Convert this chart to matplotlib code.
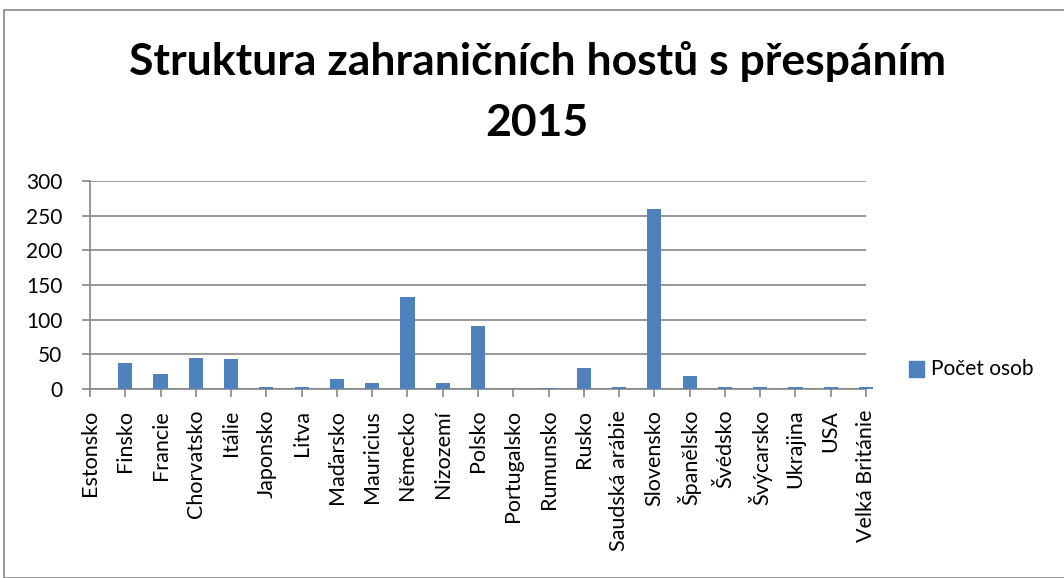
import matplotlib
matplotlib.use("Agg")
import matplotlib.pyplot as plt
from matplotlib.patches import Rectangle
import numpy as np

countries = ['Estonsko', 'Finsko', 'Francie', 'Chorvatsko', 'Itálie', 'Japonsko',
             'Litva', 'Maďarsko', 'Mauricius', 'Německo', 'Nizozemí', 'Polsko',
             'Portugalsko', 'Rumunsko', 'Rusko', 'Saudská arábie', 'Slovensko',
             'Španělsko', 'Švédsko', 'Švýcarsko', 'Ukrajina', 'USA', 'Velká Británie']
guests = [0, 38, 21, 45, 43, 3, 3, 15, 8, 132, 8, 91, 0, 2, 31, 3, 259, 19, 3, 3, 3, 3, 3]
yticks = [0, 50, 100, 150, 200, 250, 300]

plt.rcParams['font.family'] = ['Lato', 'DejaVu Sans']

W, H = 1064, 578
fig = plt.figure(figsize=(W / 100, H / 100), dpi=100)

# outer chart border
fig.patches.append(Rectangle((4 / W, 0), 1.2, 1 - 10 / H, transform=fig.transFigure,
                             fill=False, edgecolor='#868686', lw=1.2))

n = len(countries)
left, right, top, bottom = 90, 866, 181, 389
ax = fig.add_axes([left / W, 1 - bottom / H, (right - left) / W, (bottom - top) / H])

x = np.arange(n)
ax.bar(x, guests, width=0.4, color='#4F81BD', zorder=3, clip_on=False)
ax.set_xlim(0, n - 1)
ax.set_ylim(0, 300)
ax.set_yticks(yticks)
ax.set_yticklabels([str(v) for v in yticks], fontsize=15)
ax.yaxis.grid(True, color='#868686', lw=1.2, zorder=0)

ax.set_xticks(x)
ax.set_xticklabels(countries, rotation=90, fontsize=15.5, va='top')
ax.tick_params(axis='x', length=6, color='#868686', width=1.2, pad=9)
ax.tick_params(axis='y', length=6, color='#868686', width=1.2, pad=14)

for s in ['top', 'right']:
    ax.spines[s].set_visible(False)
for s in ['left', 'bottom']:
    ax.spines[s].set_color('#868686')
    ax.spines[s].set_linewidth(1.2)

fig.text(0.505, 1 - 62 / H, 'Struktura zahraničních hostů s přespáním',
         ha='center', va='center', fontsize=32, fontweight='bold')
fig.text(0.505, 1 - 123 / H, '2015', ha='center', va='center', fontsize=32, fontweight='bold')

# legend
fig.patches.append(Rectangle((909 / W, 1 - 377 / H), 15 / W, 16 / H,
                             transform=fig.transFigure, color='#4F81BD'))
fig.text(931 / W, 1 - 369 / H, 'Počet osob', ha='left', va='center', fontsize=15)

fig.savefig('out.png', dpi=100)
